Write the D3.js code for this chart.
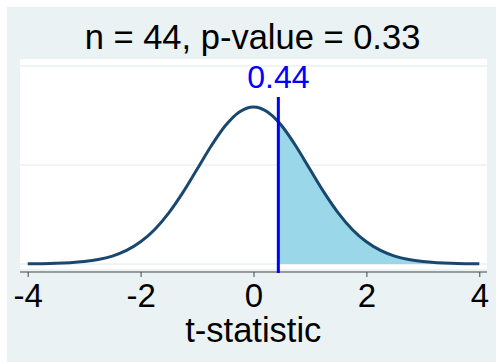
<!DOCTYPE html>
<html>
<head>
<meta charset="utf-8">
<script src="https://cdn.jsdelivr.net/npm/d3@7"></script>
<style>
  body { margin: 0; background: #fff; }
  text { font-family: "Liberation Sans", Arial, sans-serif; }
</style>
</head>
<body>
<svg id="chart" width="496" height="362"></svg>
<script>
// t distribution, df = 43, density
var tValues = [-4, -3.75, -3.5, -3.25, -3, -2.75, -2.5, -2.25, -2, -1.75, -1.5, -1.25, -1, -0.75, -0.5, -0.25,
               0, 0.25, 0.44, 0.5, 0.75, 1, 1.25, 1.5, 1.75, 2, 2.25, 2.5, 2.75, 3, 3.25, 3.5, 3.75, 4];
var density = [.0004, .0008, .0016, .0032, .0061, .0112, .0200, .0343, .0560, .0873, .1292, .1809, .2392, .2980, .3491, .3841,
               .3966, .3841, .3593, .3491, .2980, .2392, .1809, .1292, .0873, .0560, .0343, .0200, .0112, .0061, .0032, .0016, .0008, .0004];
var xTicks = [-4, -2, 0, 2, 4];
var yGrid = [0, 0.25, 0.5];
var tStat = 0.44;
var titleText = "n = 44, p-value = 0.33";
var xTitle = "t-statistic";

var points = tValues.map(function (t, i) { return {t: t, d: density[i]}; });

var svg = d3.select("#chart");

// outer background
svg.append("rect")
    .attr("x", 7).attr("y", 7)
    .attr("width", 489).attr("height", 355)
    .attr("fill", "#EAF2F3");

// plot region
svg.append("rect")
    .attr("x", 20).attr("y", 59)
    .attr("width", 467).attr("height", 210)
    .attr("fill", "#ffffff");

var x = d3.scaleLinear().domain([-4, 4]).range([27.7, 479.3]);
var y = d3.scaleLinear().domain([0, 0.5]).range([264, 66]);

svg.selectAll(".grid")
    .data(yGrid)
    .enter().append("line")
    .attr("class", "grid")
    .attr("x1", 20).attr("x2", 487)
    .attr("y1", function (d) { return y(d); })
    .attr("y2", function (d) { return y(d); })
    .attr("stroke", "#EAF2F3")
    .attr("stroke-width", 1.5);

// shaded tail
var tail = points.filter(function (p) { return p.t >= tStat; });
var area = d3.area()
    .x(function (p) { return x(p.t); })
    .y0(y(0))
    .y1(function (p) { return y(p.d); })
    .curve(d3.curveMonotoneX);
svg.append("path")
    .datum(tail)
    .attr("d", area)
    .attr("fill", "#9AD7E8");

var line = d3.line()
    .x(function (p) { return x(p.t); })
    .y(function (p) { return y(p.d); })
    .curve(d3.curveMonotoneX);
svg.append("path")
    .datum(points)
    .attr("d", line)
    .attr("fill", "none")
    .attr("stroke", "#1A476F")
    .attr("stroke-width", 3);

// x axis
var axis = svg.append("g")
    .attr("transform", "translate(0,272)")
    .call(d3.axisBottom(x).tickValues(xTicks).tickSize(5).tickSizeOuter(0).tickPadding(7)
        .tickFormat(function (d) { return d < 0 ? "-" + Math.abs(d) : d; }));
axis.select(".domain").remove();
axis.append("line")
    .attr("x1", 20).attr("x2", 487)
    .attr("stroke", "#444").attr("stroke-width", 1);
axis.selectAll(".tick line").attr("stroke", "#444");
axis.selectAll(".tick text")
    .attr("fill", "#000")
    .style("font-size", "33px")
    .style("font-family", "'Liberation Sans', Arial, sans-serif");

// observed statistic
svg.append("line")
    .attr("x1", x(tStat)).attr("x2", x(tStat))
    .attr("y1", 97).attr("y2", 273)
    .attr("stroke", "#0000FF")
    .attr("stroke-width", 3);
svg.append("text")
    .attr("x", x(tStat)).attr("y", 88)
    .attr("text-anchor", "middle")
    .attr("fill", "#0000FF")
    .style("font-size", "32px")
    .text(tStat.toFixed(2));

svg.append("text")
    .attr("x", 252.5).attr("y", 49)
    .attr("text-anchor", "middle")
    .attr("fill", "#000")
    .style("font-size", "34.5px")
    .text(titleText);

svg.append("text")
    .attr("x", 253.3).attr("y", 342)
    .attr("text-anchor", "middle")
    .attr("fill", "#000")
    .style("font-size", "34.5px")
    .text(xTitle);
</script>
</body>
</html>
